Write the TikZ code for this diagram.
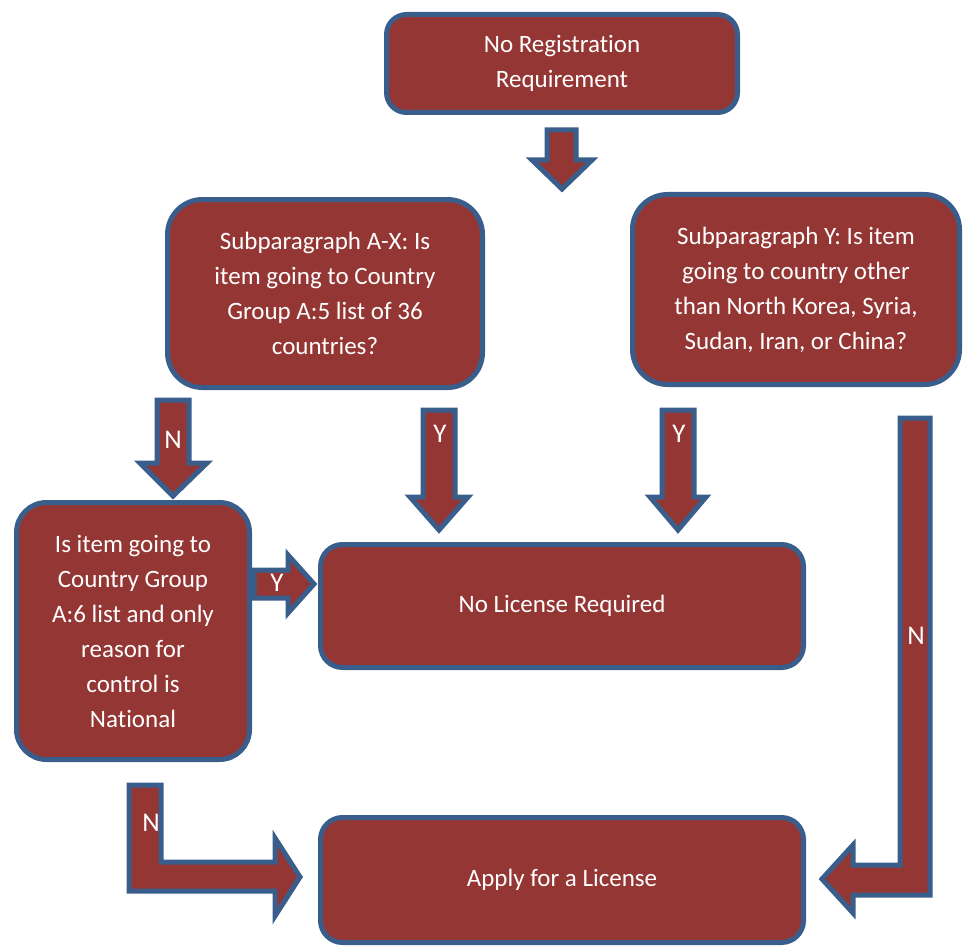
\documentclass[tikz,border=0pt]{standalone}
\usepackage{fontspec}
\setmainfont{Carlito}[Ligatures=NoCommon]
\definecolor{boxfill}{HTML}{943634}
\definecolor{boxline}{HTML}{3A5E8C}
\begin{document}
\begin{tikzpicture}[x=1pt,y=-1pt,
  box/.style={draw=boxline,fill=boxfill,line width=5pt,text=white,align=center,
    font={\fontsize{25}{35}\selectfont},inner sep=0pt},
  barrow/.style={draw=boxline,fill=boxfill,line width=5pt,line join=miter},
  lbl/.style={text=white,font={\fontsize{27}{30}\selectfont},inner sep=0pt}]
\useasboundingbox (0,0) rectangle (971,952);
% boxes
\node[box,rounded corners=20pt,minimum width=351pt,minimum height=98pt] (top) at (562,63.5) {No Registration\\Requirement};
\node[box,rounded corners=35pt,minimum width=315pt,minimum height=188pt] (ax) at (325,293.5) {Subparagraph A-X: Is\\item going to Country\\Group A:5 list of 36\\countries?};
\node[box,rounded corners=35pt,minimum width=327pt,minimum height=190pt] (y) at (796,289.5) {Subparagraph Y: Is item\\going to country other\\than North Korea, Syria,\\Sudan, Iran, or China?};
\node[box,rounded corners=30pt,minimum width=233pt,minimum height=257pt] (a6) at (133,631) {Is item going to\\Country Group\\A:6 list and only\\reason for\\control is\\National};
\node[box,rounded corners=22pt,minimum width=483pt,minimum height=123pt] (nlr) at (562,606) {No License Required};
\node[box,rounded corners=22pt,minimum width=483pt,minimum height=125pt] (apply) at (562,880) {Apply for a License};
% block arrows
\draw[barrow] (547,130) -- (576,130) -- (576,160) -- (592,160) -- (562,189) -- (532,160) -- (547,160) -- cycle;
% N down to a6
\draw[barrow] (157,400) -- (189,400) -- (189,463) -- (207,463) -- (173,496) -- (140,463) -- (157,463) -- cycle;
\node[lbl] (nA) at (173,440) {N};
% Y from ax
\draw[barrow] (423,410) -- (455,410) -- (455,497) -- (468,497) -- (439,530) -- (410,497) -- (423,497) -- cycle;
\node[lbl] (yA) at (440,434) {Y};
% Y from y
\draw[barrow] (662,410) -- (694,410) -- (694,497) -- (706,497) -- (678,530) -- (650,497) -- (662,497) -- cycle;
\node[lbl] (yB) at (679,434) {Y};
% Y horizontal
\draw[barrow] (254,570) -- (288,570) -- (288,555) -- (314,584) -- (288,613) -- (288,598) -- (254,598) -- cycle;
\node[lbl] (yC) at (277,583) {Y};
% N L-arrow left
\draw[barrow] (129,785) -- (161,785) -- (161,862) -- (275,862) -- (275,838) -- (300,877) -- (275,916) -- (275,891) -- (129,891) -- cycle;
\node[lbl] (nB) at (151,823) {N};
% N L-arrow right
\draw[barrow] (930,418) -- (900,418) -- (900,865) -- (853,865) -- (853,845) -- (822,879) -- (853,913) -- (853,895) -- (930,895) -- cycle;
\node[lbl] (nC) at (916,636) {N};
\end{tikzpicture}
\end{document}
